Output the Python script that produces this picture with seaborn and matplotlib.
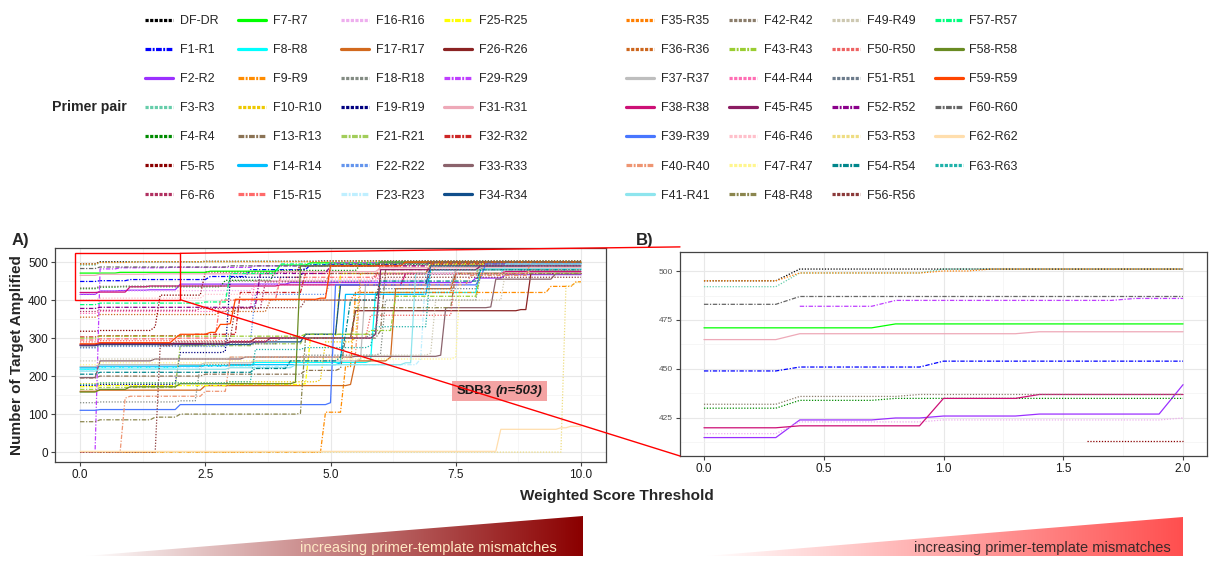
import matplotlib
matplotlib.use("Agg")
import matplotlib.pyplot as plt
import numpy as np
import pandas as pd
import seaborn as sns
from matplotlib.colors import LinearSegmentedColormap
from matplotlib.lines import Line2D
from matplotlib.offsetbox import AnnotationBbox, HPacker, TextArea
from matplotlib.patches import ConnectionPatch, Polygon, Rectangle
from matplotlib.ticker import MultipleLocator

# primer pairs in legend order (column-major, 7 rows)
PAIRS = [
    "DF-DR", "F1-R1", "F2-R2", "F3-R3", "F4-R4", "F5-R5", "F6-R6",
    "F7-R7", "F8-R8", "F9-R9", "F10-R10", "F13-R13", "F14-R14", "F15-R15",
    "F16-R16", "F17-R17", "F18-R18", "F19-R19", "F21-R21", "F22-R22", "F23-R23",
    "F25-R25", "F26-R26", "F29-R29", "F31-R31", "F32-R32", "F33-R33", "F34-R34",
    "F35-R35", "F36-R36", "F37-R37", "F38-R38", "F39-R39", "F40-R40", "F41-R41",
    "F42-R42", "F43-R43", "F44-R44", "F45-R45", "F46-R46", "F47-R47", "F48-R48",
    "F49-R49", "F50-R50", "F51-R51", "F52-R52", "F53-R53", "F54-R54", "F56-R56",
    "F57-R57", "F58-R58", "F59-R59", "F60-R60", "F62-R62", "F63-R63",
]

COLORS = [
    "#000000", "#0000FF", "#9B30FF", "#66CDAA", "#008B00", "#8B0000", "#B03060",
    "#00FF00", "#00FFFF", "#FF8C00", "#EEC900", "#8B7355", "#00BFFF", "#FF6A6A",
    "#EEAEEE", "#D2691E", "#838B83", "#000080", "#A2CD5A", "#6495ED", "#BFEFFF",
    "#FFFF00", "#8B2323", "#BF3EFF", "#EEA9B8", "#CD2626", "#8B636C", "#104E8B",
    "#FF7F00", "#CD661D", "#BEBEBE", "#CD1076", "#4876FF", "#EE9572", "#8EE5EE",
    "#8B7D6B", "#9ACD32", "#FF6EB4", "#8B1C62", "#FFC0CB", "#FFF68F", "#8B864E",
    "#CDC8B1", "#EE6363", "#6C7B8B", "#8B008B", "#EEDD82", "#00868B", "#8B3A3A",
    "#00FF7F", "#698B22", "#FF4500", "#666666", "#FFDEAD", "#20B2AA",
]

STYLES = [
    "dotted", "dotdash", "solid", "dotted", "dotted", "dotted", "dotted",
    "solid", "solid", "dotdash", "dotted", "dotdash", "solid", "dotdash",
    "dotted", "solid", "dotted", "dotted", "dotdash", "dotted", "dotdash",
    "dotdash", "solid", "dotdash", "solid", "dotdash", "solid", "solid",
    "dotted", "dotted", "solid", "solid", "solid", "dotdash", "solid",
    "dotted", "dotdash", "dotted", "solid", "dotted", "dotted", "dotdash",
    "dotted", "dotted", "dotted", "dotdash", "dotted", "dotdash", "dotted",
    "dotdash", "solid", "solid", "dotdash", "solid", "dotted",
]

# (threshold, targets amplified): value reached at threshold, held until next step
STEPS = [
    [(0, 495), (0.4, 501), (2.5, 502), (4.8, 503)],
    [(0, 449), (0.4, 451), (1.0, 454), (2.6, 462), (3.4, 480), (4.6, 493), (6.4, 499)],
    [(0, 415), (0.4, 424), (0.8, 425), (1.0, 426), (1.4, 427), (2.0, 442), (4.2, 446), (7.9, 458), (8.5, 467)],
    [(0, 492), (0.4, 499), (1.0, 501), (3.2, 502)],
    [(0, 430), (0.4, 434), (0.8, 435), (2.9, 452), (3.9, 478), (5.6, 493), (8.2, 498)],
    [(0, 318), (0.4, 320), (1.5, 330), (1.6, 413), (2.5, 474), (4.4, 490), (6.1, 497)],
    [(0, 370), (0.4, 373), (2.4, 378), (3.7, 448), (5.9, 468), (8.8, 478)],
    [(0, 471), (0.8, 473), (2.6, 476), (4.0, 492), (4.6, 498)],
    [(0, 218), (0.4, 222), (2.0, 228), (3.5, 236), (5.8, 240), (5.9, 420), (8.0, 482)],
    [(0, 0), (4.9, 105), (5.3, 225), (5.5, 420), (9.4, 436), (9.9, 448)],
    [(0, 180), (0.4, 182), (3.0, 185), (4.8, 190), (4.9, 290), (5.5, 300), (5.6, 470), (7.1, 490)],
    [(0, 195), (0.4, 200), (2.5, 205), (4.5, 215), (5.2, 220), (5.3, 300), (6.0, 320), (6.1, 480), (8.1, 495)],
    [(0, 222), (0.4, 226), (3.0, 230), (5.2, 235), (5.3, 415), (7.0, 480)],
    [(0, 295), (0.4, 298), (2.0, 300), (2.8, 400), (4.0, 460), (6.0, 490)],
    [(0, 417), (0.4, 423), (1.0, 424), (2.0, 425), (3.5, 440), (6.0, 470), (8.0, 480)],
    [(0, 160), (0.4, 163), (2.5, 175), (5.4, 178), (5.5, 240), (6.2, 250), (6.3, 430), (7.5, 470)],
    [(0, 130), (0.4, 132), (2.0, 135), (2.4, 230), (3.5, 250), (4.5, 255), (6.0, 260), (6.1, 400), (8.0, 470)],
    [(0, 175), (0.4, 178), (1.9, 180), (2.0, 262), (2.9, 265), (3.0, 460), (4.5, 490), (6.0, 500)],
    [(0, 165), (0.4, 170), (2.0, 280), (3.5, 285), (4.5, 310), (6.0, 470), (8.0, 490)],
    [(0, 274), (0.4, 278), (3.0, 290), (3.5, 415), (5.0, 450), (7.0, 490)],
    [(0, 215), (0.4, 222), (2.5, 225), (4.3, 230), (6.8, 245), (6.9, 470), (8.5, 490)],
    [(0, 172), (0.4, 175), (3.0, 178), (4.5, 180), (4.6, 300), (5.2, 470), (7.0, 495)],
    [(0, 282), (0.4, 286), (3.0, 290), (3.5, 300), (5.5, 372), (8.8, 375), (9.0, 470)],
    [(0, 0), (0.4, 482), (0.8, 485), (1.8, 486), (3.5, 490), (5.0, 498)],
    [(0, 465), (0.4, 468), (1.4, 469), (4.0, 475), (6.0, 485)],
    [(0, 303), (0.4, 306), (2.3, 310), (3.2, 420), (4.5, 470), (7.0, 495)],
    [(0, 196), (0.4, 240), (1.5, 245), (3.3, 250), (5.5, 252), (7.2, 255), (7.3, 380), (8.2, 382), (8.3, 455), (9.5, 470)],
    [(0, 280), (0.4, 283), (3.5, 290), (4.5, 310), (5.2, 440), (7.0, 490), (9.0, 497)],
    [(0, 495), (0.4, 499), (1.0, 500), (1.2, 501), (5.0, 502)],
    [(0, 355), (0.4, 362), (2.8, 370), (3.8, 400), (5.5, 420), (7.5, 480)],
    [(0, 225), (0.4, 230), (2.5, 235), (3.5, 240), (5.6, 245), (5.7, 440), (7.5, 480)],
    [(0, 420), (0.4, 421), (1.0, 435), (1.4, 437), (4.0, 440), (6.5, 470), (8.5, 475)],
    [(0, 110), (0.4, 112), (2.0, 125), (5.0, 130), (5.1, 440), (8.0, 460), (8.1, 495)],
    [(0, 0), (0.9, 142), (1.0, 147), (2.5, 160), (3.0, 250), (5.5, 260), (5.6, 440), (7.8, 465), (9.0, 500)],
    [(0, 213), (0.4, 218), (3.0, 222), (4.3, 230), (6.5, 235), (6.7, 470), (8.5, 495)],
    [(0, 432), (0.4, 436), (0.9, 437), (3.0, 450), (5.0, 470), (7.0, 490)],
    [(0, 300), (0.4, 305), (4.5, 310), (5.8, 320), (6.3, 410), (8.0, 470)],
    [(0, 365), (0.4, 370), (3.0, 380), (3.5, 450), (6.0, 470), (8.5, 480)],
    [(0, 282), (0.4, 285), (3.0, 290), (3.8, 300), (5.9, 310), (6.0, 480), (8.0, 490)],
    [(0, 400), (0.4, 405), (2.5, 415), (4.0, 455), (7.0, 470)],
    [(0, 230), (0.4, 235), (3.0, 240), (5.0, 245), (7.5, 250), (7.6, 470), (9.0, 480)],
    [(0, 80), (0.4, 85), (1.5, 92), (2.0, 100), (4.4, 102), (4.5, 300), (5.5, 380), (7.5, 470)],
    [(0, 240), (0.4, 245), (3.0, 250), (5.4, 255), (7.0, 260), (7.1, 400), (8.5, 480)],
    [(0, 290), (0.4, 293), (4.0, 300), (5.8, 360), (7.5, 470), (9.0, 480)],
    [(0, 276), (0.4, 280), (2.5, 285), (4.0, 300), (5.8, 310), (6.0, 430), (8.0, 490)],
    [(0, 378), (0.4, 381), (3.5, 385), (3.6, 470), (5.0, 490), (7.0, 500)],
    [(0, 0), (9.7, 437), (9.9, 446)],
    [(0, 205), (0.4, 210), (3.5, 220), (4.2, 240), (5.2, 250), (5.3, 310), (5.4, 400), (6.0, 450), (8.0, 480)],
    [(0, 0), (1.6, 280), (1.9, 290), (3.0, 300), (3.1, 380), (4.5, 400), (6.0, 460)],
    [(0, 388), (0.4, 392), (2.5, 395), (3.0, 470), (4.0, 495), (6.0, 500)],
    [(0, 158), (0.4, 165), (1.0, 172), (2.0, 180), (4.3, 184), (4.4, 490), (6.0, 500)],
    [(0, 285), (0.4, 288), (1.9, 300), (2.0, 310), (2.6, 315), (2.8, 336), (3.0, 338), (3.1, 402), (4.8, 405), (5.0, 490), (6.5, 500)],
    [(0, 483), (0.4, 487), (3.0, 490), (5.0, 495), (7.0, 500)],
    [(0, 2), (8.4, 60), (9.6, 64), (9.8, 68)],
    [(0, 178), (0.4, 182), (3.0, 185), (3.5, 270), (4.5, 275), (5.8, 280), (5.9, 330), (7.0, 480)],
]

STEP_WIDTH = 0.1      # thresholds are evaluated every 0.1
X_MAX_A = 10.0
X_MAX_B = 2.0
Y_MIN_B = 410         # zoomed panel only shows the top of the distribution

PLOT_DASH = {"solid": "", "dotted": (1, 1.3), "dotdash": (3.5, 1.3, 1, 1.3)}
LEG_DASH = {"solid": None, "dotted": (1.0, 0.45), "dotdash": (1.8, 0.45, 0.6, 0.45)}


def trace(pair, steps, x_end):
    """Turn step list into a polyline (ramps over one threshold step)."""
    rows = []
    prev = None
    for x, y in steps:
        if x > x_end + 1e-9:
            break
        if prev is not None and x - STEP_WIDTH > prev[0] + 1e-9:
            rows.append((pair, round(x - STEP_WIDTH, 2), prev[1]))
        rows.append((pair, x, y))
        prev = (x, y)
    if prev[0] < x_end - 1e-9:
        rows.append((pair, x_end, prev[1]))
    return rows


def main():
    df_a = pd.DataFrame(
        [r for p, s in zip(PAIRS, STEPS) for r in trace(p, s, X_MAX_A)],
        columns=["pair", "threshold", "amplified"],
    )
    df_b = pd.DataFrame(
        [r for p, s in zip(PAIRS, STEPS) for r in trace(p, s, X_MAX_B)],
        columns=["pair", "threshold", "amplified"],
    )
    df_b = df_b[df_b["amplified"] >= Y_MIN_B]

    sns.set_style("white")
    plt.rcParams["font.family"] = ["Liberation Sans", "DejaVu Sans"]

    palette = dict(zip(PAIRS, COLORS))
    dashes = {p: PLOT_DASH[s] for p, s in zip(PAIRS, STYLES)}

    fig = plt.figure(figsize=(12.14, 5.65), dpi=100)
    ax_a = fig.add_axes([55 / 1214, 1 - 462 / 565, 551 / 1214, 214 / 565])
    ax_b = fig.add_axes([680 / 1214, 1 - 456 / 565, 527 / 1214, 204 / 565])

    for ax, data in [(ax_a, df_a), (ax_b, df_b)]:
        present = [p for p in PAIRS if p in set(data["pair"])]
        sns.lineplot(
            data=data, x="threshold", y="amplified", hue="pair", style="pair",
            hue_order=present, style_order=present,
            palette=palette, dashes=dashes, estimator=None, sort=False,
            linewidth=0.9, legend=False, ax=ax,
        )
        ax.set_xlabel("")
        ax.set_ylabel("")
        ax.grid(which="major", color="#E8E8E8", lw=0.8)
        ax.grid(which="minor", color="#F3F3F3", lw=0.5)
        ax.set_axisbelow(True)
        for sp in ax.spines.values():
            sp.set_color("#444444")
            sp.set_linewidth(0.9)
        ax.tick_params(which="major", length=3, color="#444444", labelsize=8.5,
                       labelcolor="#1a1a1a", pad=2, left=True, bottom=True)
        ax.tick_params(which="minor", length=0)

    ax_a.set_xlim(-0.5, 10.5)
    ax_a.set_ylim(-26, 537)
    ax_a.xaxis.set_major_locator(MultipleLocator(2.5))
    ax_a.xaxis.set_minor_locator(MultipleLocator(1.25))
    ax_a.yaxis.set_major_locator(MultipleLocator(100))
    ax_a.yaxis.set_minor_locator(MultipleLocator(50))
    ax_a.xaxis.set_major_formatter(lambda v, _: f"{v:.1f}")
    ax_a.set_ylabel("Number of Target Amplified", fontsize=11, fontweight="bold", labelpad=3)

    ax_b.set_xlim(-0.1, 2.1)
    ax_b.set_ylim(405.6, 509.7)
    ax_b.xaxis.set_major_locator(MultipleLocator(0.5))
    ax_b.xaxis.set_minor_locator(MultipleLocator(0.25))
    ax_b.yaxis.set_major_locator(MultipleLocator(25))
    ax_b.yaxis.set_minor_locator(MultipleLocator(12.5))
    ax_b.xaxis.set_major_formatter(lambda v, _: f"{v:.1f}")
    ax_b.tick_params(axis="y", labelsize=6, labelcolor="#555555")

    # zoom box + connectors
    ax_a.add_patch(Rectangle((-0.1, 401), 2.1, 122, fill=False, ec="red", lw=1,
                             clip_on=False, zorder=6))
    for ya, yb in [(523, 1.025), (401, 0.0)]:
        con = ConnectionPatch(xyA=(2.0, ya), coordsA=ax_a.transData,
                              xyB=(0, yb), coordsB=ax_b.transAxes,
                              color="red", lw=1, zorder=6)
        fig.add_artist(con)

    label = HPacker(children=[
        TextArea("SDB3", textprops=dict(fontsize=9.5, fontweight="bold", color="#1a1a1a")),
        TextArea("(n=503)", textprops=dict(fontsize=9.5, fontweight="bold",
                                           fontstyle="italic", color="#1a1a1a")),
    ], sep=3, pad=0)
    ab = AnnotationBbox(label, (8.37, 160), xycoords="data", frameon=True, pad=0.15,
                        bboxprops=dict(facecolor="#F4A3A3", edgecolor="none",
                                       boxstyle="square"),
                        zorder=7)
    ax_a.add_artist(ab)

    # legend (two blocks of four columns)
    handles = []
    for c, s in zip(COLORS, STYLES):
        ls = "-" if LEG_DASH[s] is None else (0, LEG_DASH[s])
        handles.append(Line2D([], [], color=c, lw=2.3, ls=ls))
    leg_kw = dict(ncol=4, loc="upper left", frameon=False, fontsize=9,
                  handlelength=2.24, handletextpad=0.55, columnspacing=1.55,
                  labelspacing=1.37, borderpad=0, borderaxespad=0)
    fig.legend(handles[:28], PAIRS[:28], bbox_to_anchor=(145 / 1214, 1 - 15 / 565), **leg_kw)
    fig.legend(handles[28:], PAIRS[28:], bbox_to_anchor=(626 / 1214, 1 - 15 / 565), **leg_kw)
    fig.text(52 / 1214, 1 - 107 / 565, "Primer pair", fontsize=10.2, fontweight="bold",
             ha="left", va="center")

    fig.text(12 / 1214, 1 - 240 / 565, "A)", fontsize=12, fontweight="bold", va="center")
    fig.text(636 / 1214, 1 - 240 / 565, "B)", fontsize=12, fontweight="bold", va="center")
    fig.text(617 / 1214, 1 - 496 / 565, "Weighted Score Threshold", fontsize=11,
             fontweight="bold", ha="center", va="center")

    # gradient wedges under the axes
    ov = fig.add_axes([0, 0, 1, 1])
    ov.set_xlim(0, 1214)
    ov.set_ylim(565, 0)
    ov.axis("off")
    ramp = np.linspace(0, 1, 256).reshape(1, -1)
    for (x0, x1, y_bot, y_top, col, txt_col, tx) in [
        (85, 583, 556, 516, "#8B0000", "#FFE9C4", 428),
        (706, 1183, 556, 517, "#FF4F4F", "#3a2a2a", 1042),
    ]:
        cmap = LinearSegmentedColormap.from_list("wedge", ["#FFFFFF", col])
        im = ov.imshow(ramp, cmap=cmap, extent=(x0, x1, y_bot, y_top), aspect="auto")
        tri = Polygon([(x0, y_bot), (x1, y_bot), (x1, y_top)], closed=True,
                      transform=ov.transData, fc="none", ec="none")
        ov.add_patch(tri)
        im.set_clip_path(tri)
        ov.text(tx, 548, "increasing primer-template mismatches", color=txt_col,
                fontsize=10.5, ha="center", va="center")
    ov.set_xlim(0, 1214)
    ov.set_ylim(565, 0)

    fig.savefig("out.png", dpi=100)
    plt.close(fig)


if __name__ == "__main__":
    main()
